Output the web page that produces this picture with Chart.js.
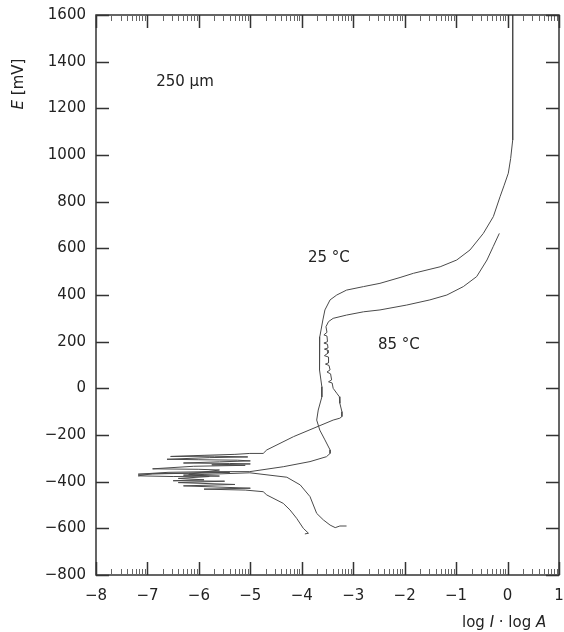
<!DOCTYPE html>
<html>
<head>
<meta charset="utf-8">
<script src="https://cdn.jsdelivr.net/npm/chart.js@4/dist/chart.umd.min.js"></script>
<style>
  body { margin: 0; background: #fff; }
  canvas { display: block; }
</style>
</head>
<body>
<canvas id="polChart" width="564" height="632"></canvas>
<script>
// Polarisation curves, E [mV] against log I · log A, two temperatures

// 25 °C: anodic branch from the top, down through the active nose, noise at Ecorr, cathodic branch
const curve25X = [
  0.10, 0.10, 0.06, 0.015, -0.07, -0.146, -0.276, -0.471, -0.73, -0.988, -1.31, -1.83, -2.09, -2.48,
  -2.80, -3.13, -3.32, -3.45, -3.55, -3.59, -3.65, -3.66, -3.65, -3.61, -3.61, -3.68,
  -3.71, -3.65, -3.55, -3.45, -3.45, -3.52, -3.84, -4.36, -5.01,
  -5.80, -6.60, -7.18, -6.20, -5.40, -6.90, -7.18, -6.50, -5.60, -6.30, -5.90, -5.01,
  -4.29, -4.03, -3.84, -3.71, -3.58, -3.45, -3.35, -3.26, -3.13
];
const curve25Y = [
  1600, 1064, 985, 922, 868, 821, 736, 664, 593, 550, 521, 493, 475, 450,
  436, 421, 400, 379, 336, 293, 221, 150, 79, 7, -37, -93,
  -136, -179, -221, -264, -279, -293, -314, -336, -357,
  -357, -360, -368, -364, -360, -366, -375, -378, -376, -372, -369, -362,
  -381, -414, -464, -536, -564, -586, -597, -590, -590
];

// 85 °C: anodic branch, jagged passive region, noise at Ecorr, cathodic branch
const curve85X = [
  -0.16, -0.28, -0.40, -0.60, -0.86, -1.18, -1.51, -1.96, -2.48, -2.80, -3.13, -3.39,
  -3.48, -3.53, -3.51, -3.57, -3.51, -3.50, -3.57, -3.50, -3.49, -3.56, -3.49, -3.49,
  -3.56, -3.48, -3.48, -3.54, -3.47, -3.45, -3.51, -3.44, -3.42, -3.48, -3.41, -3.39,
  -3.32, -3.27, -3.26, -3.22, -3.22, -3.26, -3.39, -4.16, -4.68, -4.75, -5.01,
  -5.30, -5.90, -6.55, -5.70, -5.05, -5.80, -6.62, -6.00, -5.25, -5.00, -5.60, -6.30,
  -5.40, -5.00, -5.75, -5.10, -6.10, -6.90, -6.00, -5.60, -6.20, -5.80, -6.40, -5.90,
  -6.50, -5.50, -6.40, -5.30, -6.30, -5.00, -5.90, -5.10,
  -4.75, -4.68, -4.36, -4.23, -4.10, -3.97, -3.87, -3.94
];
const curve85Y = [
  664, 607, 550, 479, 436, 400, 379, 357, 336, 328, 314, 300,
  286, 264, 240, 229, 224, 200, 194, 189, 173, 168, 163, 151,
  140, 134, 109, 104, 98, 79, 70, 62, 36, 28, 23, 0,
  -21, -36, -64, -100, -121, -128, -136, -207, -264, -279, -279,
  -283, -287, -292, -291, -294, -297, -304, -306, -308, -311, -315, -320,
  -322, -324, -328, -330, -334, -345, -347, -350, -368, -378, -386, -392,
  -396, -398, -404, -412, -418, -428, -432, -436,
  -443, -457, -493, -521, -557, -600, -621, -624
];

// axis ranges
const xRange = [-8, 1];
const yRange = [-800, 1600];

// labels written inside the plot, placed in data units
const noteText = ['250 \u00b5m', '25 \u00b0C', '85 \u00b0C'];
const noteX = [-6.83, -3.88, -2.52];
const noteY = [1313, 559, 186];

const FONT = '"DejaVu Sans", sans-serif';
const INK = '#222';

const toPoints = (xs, ys) => xs.map((x, i) => ({ x: x, y: ys[i] }));
const minus = v => String(v).replace('-', '\u2212');

// keep tick labels from pushing the plot area inwards
const noPad = size => s => {
  Object.assign(s, size);
  s.paddingLeft = s.paddingRight = s.paddingTop = s.paddingBottom = 0;
};

// frame, inward major ticks and log minor ticks, axis titles, notes
const framePlugin = {
  id: 'frame',
  afterDraw(chart) {
    const { ctx, chartArea: a, scales } = chart;
    const x = scales.x, y = scales.y;
    ctx.save();

    ctx.strokeStyle = '#333';
    ctx.lineWidth = 1.5;
    ctx.strokeRect(a.left, a.top, a.right - a.left, a.bottom - a.top);

    // x: decade ticks plus 2..9 minor ticks, on bottom and top
    for (let k = xRange[0]; k <= xRange[1]; k++) {
      const px = Math.round(x.getPixelForValue(k)) + 0.5;
      ctx.strokeStyle = '#333';
      ctx.lineWidth = 1.5;
      ctx.beginPath();
      ctx.moveTo(px, a.bottom); ctx.lineTo(px, a.bottom - 13);
      ctx.moveTo(px, a.top); ctx.lineTo(px, a.top + 13);
      ctx.stroke();
      if (k === xRange[1]) break;
      ctx.strokeStyle = '#666';
      ctx.lineWidth = 1;
      ctx.beginPath();
      for (let m = 2; m <= 9; m++) {
        const mx = Math.round(x.getPixelForValue(k + Math.log10(m))) + 0.5;
        ctx.moveTo(mx, a.bottom); ctx.lineTo(mx, a.bottom - 6);
        ctx.moveTo(mx, a.top); ctx.lineTo(mx, a.top + 6);
      }
      ctx.stroke();
    }

    // y: major ticks on left and right
    ctx.strokeStyle = '#333';
    ctx.lineWidth = 1.5;
    ctx.beginPath();
    for (let v = yRange[0]; v <= yRange[1]; v += 200) {
      const py = Math.round(y.getPixelForValue(v)) + 0.5;
      ctx.moveTo(a.left, py); ctx.lineTo(a.left + 13, py);
      ctx.moveTo(a.right, py); ctx.lineTo(a.right - 13, py);
    }
    ctx.stroke();

    ctx.fillStyle = INK;
    ctx.textBaseline = 'alphabetic';
    ctx.textAlign = 'left';

    // x title: log I · log A
    const xParts = [['log ', false], ['I', true], [' \u00b7 log ', false], ['A', true]];
    let cx = 462;
    xParts.forEach(([t, it]) => {
      ctx.font = (it ? 'italic ' : '') + '15px ' + FONT;
      ctx.fillText(t, cx, 627);
      cx += ctx.measureText(t).width;
    });

    // y title: E [mV], rotated
    ctx.save();
    ctx.translate(23, 84);
    ctx.rotate(-Math.PI / 2);
    const yParts = [['E', true], [' [mV]', false]];
    let w = 0;
    yParts.forEach(([t, it]) => {
      ctx.font = (it ? 'italic ' : '') + '15px ' + FONT;
      w += ctx.measureText(t).width;
    });
    let cy = -w / 2;
    yParts.forEach(([t, it]) => {
      ctx.font = (it ? 'italic ' : '') + '15px ' + FONT;
      ctx.fillText(t, cy, 0);
      cy += ctx.measureText(t).width;
    });
    ctx.restore();

    // notes
    ctx.font = '15px ' + FONT;
    ctx.textBaseline = 'middle';
    noteText.forEach((t, i) => {
      ctx.fillText(t, x.getPixelForValue(noteX[i]), y.getPixelForValue(noteY[i]));
    });

    ctx.restore();
  }
};

const lineStyle = {
  showLine: true,
  pointRadius: 0,
  borderWidth: 1,
  borderColor: '#4a4a4a',
  tension: 0,
  fill: false
};

new Chart(document.getElementById('polChart'), {
  type: 'scatter',
  data: {
    datasets: [
      Object.assign({ label: '25 \u00b0C', data: toPoints(curve25X, curve25Y) }, lineStyle),
      Object.assign({ label: '85 \u00b0C', data: toPoints(curve85X, curve85Y) }, lineStyle)
    ]
  },
  options: {
    responsive: false,
    animation: false,
    layout: { padding: 0 },
    plugins: { legend: { display: false }, tooltip: { enabled: false } },
    scales: {
      x: {
        type: 'linear', position: 'bottom', min: xRange[0], max: xRange[1],
        grid: { display: false, drawTicks: false },
        border: { display: false },
        ticks: { stepSize: 1, padding: 12, color: INK, font: { family: FONT, size: 15 }, callback: minus },
        afterFit: noPad({ height: 57 })
      },
      y: {
        type: 'linear', position: 'left', min: yRange[0], max: yRange[1],
        grid: { display: false, drawTicks: false },
        border: { display: false },
        ticks: { stepSize: 200, padding: 10, color: INK, font: { family: FONT, size: 15 }, callback: minus },
        afterFit: noPad({ width: 96 })
      },
      x2: {
        axis: 'x', type: 'linear', position: 'top', min: xRange[0], max: xRange[1],
        grid: { display: false, drawTicks: false }, border: { display: false },
        ticks: { display: false },
        afterFit: noPad({ height: 15 })
      },
      y2: {
        axis: 'y', type: 'linear', position: 'right', min: yRange[0], max: yRange[1],
        grid: { display: false, drawTicks: false }, border: { display: false },
        ticks: { display: false },
        afterFit: noPad({ width: 5 })
      }
    }
  },
  plugins: [framePlugin]
});
</script>
</body>
</html>
